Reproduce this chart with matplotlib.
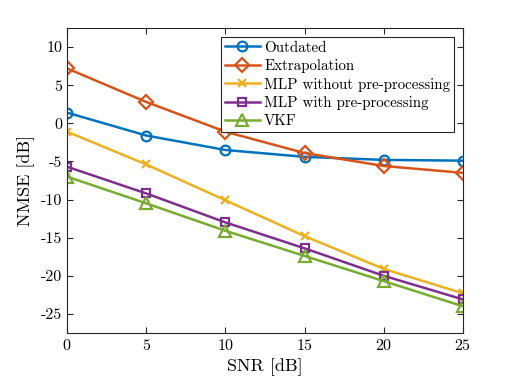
import matplotlib
matplotlib.use("Agg")
import matplotlib.pyplot as plt

plt.rcParams['font.family'] = 'serif'
plt.rcParams['font.serif'] = ['cmr10', 'DejaVu Serif']
plt.rcParams['mathtext.fontset'] = 'cm'
plt.rcParams['axes.formatter.use_mathtext'] = True

snr = [0, 5, 10, 15, 20, 25]
outdated = [1.4, -1.6, -3.5, -4.4, -4.8, -4.9]
extrapolation = [7.2, 2.8, -1.1, -3.9, -5.6, -6.5]
mlp_without = [-1.1, -5.4, -10.1, -14.8, -19.1, -22.3]
mlp_with = [-5.7, -9.2, -13.0, -16.4, -20.0, -23.1]
vkf = [-7.0, -10.5, -14.1, -17.4, -20.7, -24.0]
labels = ['Outdated', 'Extrapolation', 'MLP without pre-processing',
          'MLP with pre-processing', 'VKF']

fig = plt.figure(figsize=(5.12, 3.84), dpi=100)
ax = fig.add_axes([0.131, 0.133, 0.773, 0.794])

series = [outdated, extrapolation, mlp_without, mlp_with, vkf]
colors = ['#0072BD', '#D95319', '#EDB120', '#7E2F8E', '#77AC30']
markers = ['o', 'D', 'x', 's', '^']
msizes = [7, 7, 6, 6, 8]
for s, c, m, ms, lab in zip(series, colors, markers, msizes, labels):
    ax.plot(snr, s, color=c, marker=m, markersize=ms, markerfacecolor='none',
            markeredgewidth=1.6, linewidth=1.8, label=lab)

ax.set_xlim(0, 25)
ax.set_ylim(-27.5, 12.5)
ax.set_xticks(snr)
ax.set_yticks([-25, -20, -15, -10, -5, 0, 5, 10])
ax.set_yticklabels(['-25', '-20', '-15', '-10', '-5', '0', '5', '10'])
ax.tick_params(direction='in', top=True, right=True, labelsize=11.5, length=4, color='#262626')
for sp in ax.spines.values():
    sp.set_color('#262626')
    sp.set_linewidth(0.8)
ax.set_xlabel('SNR [dB]', fontsize=13)
ax.set_ylabel('NMSE [dB]', fontsize=13)
leg = ax.legend(loc='upper right', fontsize=10.8, fancybox=False, framealpha=1,
                edgecolor='#262626', borderpad=0.25, labelspacing=0.3,
                handlelength=2.3, handletextpad=0.3, borderaxespad=0.6)
leg.get_frame().set_linewidth(0.8)
fig.savefig('out.png', dpi=100)
